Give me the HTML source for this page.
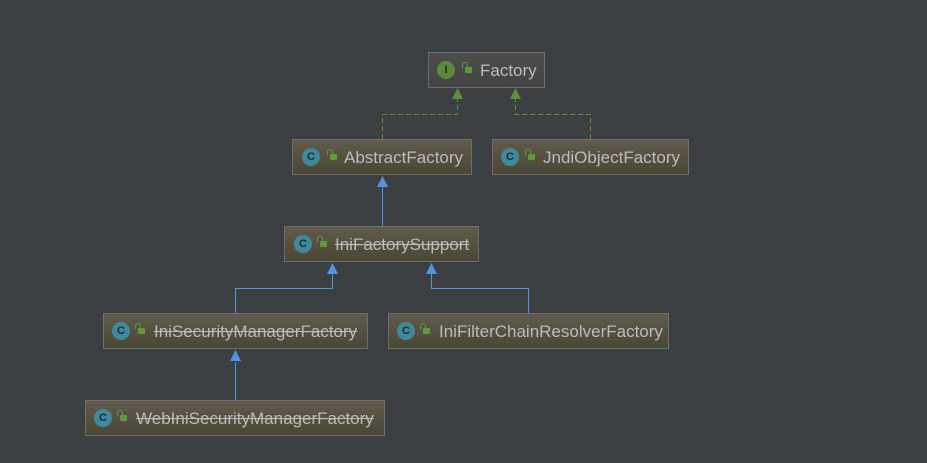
<!DOCTYPE html>
<html><head><meta charset="utf-8"><style>
body{margin:0;width:927px;height:463px;background:#3c3f41;position:relative;overflow:hidden;font-family:"Liberation Sans",sans-serif}
.b{position:absolute;height:34px;border:1px solid #6e6e6e;background:linear-gradient(#625b4b,#4a4636);box-sizing:content-box;color:#bbbbbb;font-size:17px;line-height:36px;white-space:nowrap}
.b.i{background:linear-gradient(#4d4d4d,#434343)}
.ic{position:absolute;top:8px;width:18px;height:18px;border-radius:50%;background:#3e8a9c;color:#1e2a30;font-size:11px;font-weight:bold;line-height:18px;text-align:center}
.ic.g{background:#5c8a3c}
.lk{position:absolute;top:14px;width:7px;height:6px;background:#5c9a3c;border-radius:1px}
.lk:before{content:"";position:absolute;left:-3px;top:-5px;width:4px;height:5px;border:1.5px solid #5c9a3c;border-bottom:none;border-radius:3px 3px 0 0}
.t{position:absolute;top:0}
.s{text-decoration:line-through}
svg{position:absolute;left:0;top:0}
</style></head><body>
<svg width="927" height="463">
<g stroke="#5c8f3c" stroke-width="1" fill="none" stroke-dasharray="5,3">
<polyline points="382.5,139 382.5,114.5 457.5,114.5 457.5,99"/>
<polyline points="590.5,139 590.5,114.5 515.5,114.5 515.5,99"/>
</g>
<polygon points="457.5,88 452,99 463,99" fill="#5c8f3c"/>
<polygon points="515.5,88 510,99 521,99" fill="#5c8f3c"/>
<g stroke="#5294e2" stroke-width="1" fill="none">
<line x1="382.5" y1="187" x2="382.5" y2="226"/>
<polyline points="235.5,313 235.5,288.5 332.5,288.5 332.5,274"/>
<polyline points="528.5,313 528.5,288.5 431.5,288.5 431.5,274"/>
<line x1="235.5" y1="362" x2="235.5" y2="400"/>
</g>
<g fill="#5294e2">
<polygon points="382.5,176 377,187 388,187"/>
<polygon points="332.5,263 327,274 338,274"/>
<polygon points="431.5,263 426,274 437,274"/>
<polygon points="235.5,350 230,361 241,361"/>
</g>
</svg>
<div class="b i" style="left:428px;top:52px;width:115px"><div class="ic g" style="left:8px">I</div><div class="lk" style="left:36px"></div><span class="t" style="left:51px">Factory</span></div>
<div class="b" style="left:292px;top:139px;width:178px"><div class="ic" style="left:9px">C</div><div class="lk" style="left:37px"></div><span class="t" style="left:51px">AbstractFactory</span></div>
<div class="b" style="left:492px;top:139px;width:195px"><div class="ic" style="left:8px">C</div><div class="lk" style="left:35px"></div><span class="t" style="left:50px">JndiObjectFactory</span></div>
<div class="b" style="left:284px;top:226px;width:193px"><div class="ic" style="left:9px">C</div><div class="lk" style="left:35px"></div><span class="t s" style="left:50px">IniFactorySupport</span></div>
<div class="b" style="left:103px;top:313px;width:263px"><div class="ic" style="left:8px">C</div><div class="lk" style="left:34px"></div><span class="t s" style="left:50px">IniSecurityManagerFactory</span></div>
<div class="b" style="left:388px;top:313px;width:279px"><div class="ic" style="left:8px">C</div><div class="lk" style="left:34px"></div><span class="t" style="left:50px">IniFilterChainResolverFactory</span></div>
<div class="b" style="left:85px;top:400px;width:298px"><div class="ic" style="left:8px">C</div><div class="lk" style="left:34px"></div><span class="t s" style="left:50px">WebIniSecurityManagerFactory</span></div>
</body></html>
